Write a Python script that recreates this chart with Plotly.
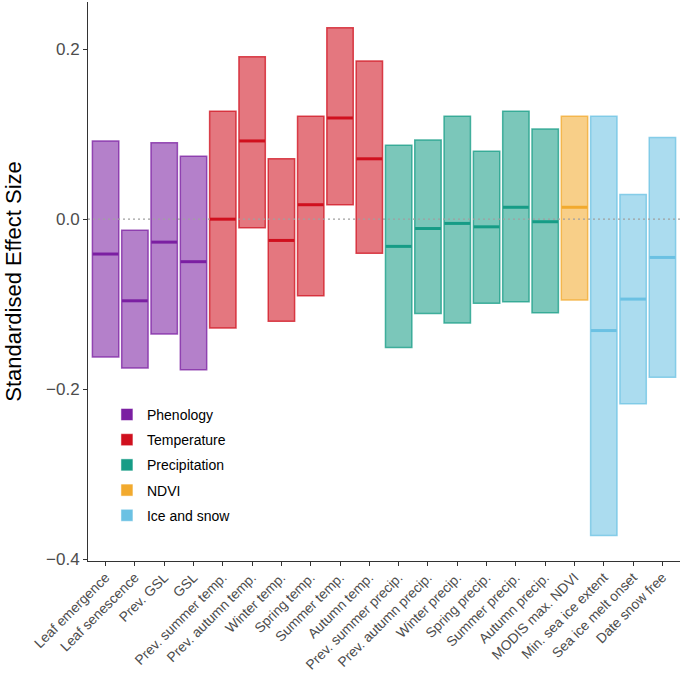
import plotly.graph_objects as go

categories = ["Leaf emergence", "Leaf senescence", "Prev. GSL", "GSL",
              "Prev. summer temp.", "Prev. autumn temp.", "Winter temp.", "Spring temp.",
              "Summer temp.", "Autumn temp.", "Prev. summer precip.", "Prev. autumn precip.",
              "Winter precip.", "Spring precip.", "Summer precip.", "Autumn precip.",
              "MODIS max. NDVI", "Min. sea ice extent", "Sea ice melt onset", "Date snow free"]
groups = ["Phenology"] * 4 + ["Temperature"] * 6 + ["Precipitation"] * 6 + ["NDVI"] + ["Ice and snow"] * 3
upper = [0.092, -0.013, 0.090, 0.074, 0.127, 0.191, 0.071, 0.121, 0.225, 0.186,
         0.087, 0.093, 0.121, 0.080, 0.127, 0.106, 0.121, 0.121, 0.029, 0.096]
median = [-0.041, -0.096, -0.027, -0.050, 0.000, 0.092, -0.025, 0.017, 0.119, 0.071,
          -0.032, -0.011, -0.005, -0.009, 0.014, -0.003, 0.014, -0.131, -0.094, -0.045]
lower = [-0.162, -0.175, -0.135, -0.177, -0.128, -0.010, -0.120, -0.090, 0.017, -0.040,
         -0.151, -0.111, -0.122, -0.099, -0.097, -0.110, -0.095, -0.372, -0.217, -0.186]
group_order = ["Phenology", "Temperature", "Precipitation", "NDVI", "Ice and snow"]
group_colors = {"Phenology": (123, 31, 162), "Temperature": (208, 16, 30),
                "Precipitation": (22, 156, 134), "NDVI": (242, 170, 46),
                "Ice and snow": (107, 193, 227)}
y_ticks = [0.2, 0.0, -0.2, -0.4]
x_range = [-0.6, len(categories) - 0.4]

def rgba(c, a):
    return f"rgba({c[0]},{c[1]},{c[2]},{a})"

fig = go.Figure()
xs = list(range(len(categories)))

# bars (interval from lower to upper)
for g in group_order:
    idx = [i for i in xs if groups[i] == g]
    c = group_colors[g]
    fig.add_trace(go.Bar(
        x=[xs[i] for i in idx],
        y=[upper[i] - lower[i] for i in idx],
        base=[lower[i] for i in idx],
        width=0.9,
        marker=dict(color=rgba(c, 0.57), line=dict(color=rgba(c, 0.75), width=1.5)),
        showlegend=False, hoverinfo="skip"))

# dotted zero reference line (between bars and medians)
fig.add_trace(go.Scatter(x=x_range, y=[0, 0], mode="lines",
                         line=dict(color="#a0a0a0", width=1.3, dash="2px,3px"),
                         showlegend=False, hoverinfo="skip"))

# medians
for g in group_order:
    idx = [i for i in xs if groups[i] == g]
    c = group_colors[g]
    mx, my = [], []
    for i in idx:
        mx += [xs[i] - 0.44, xs[i] + 0.44, None]
        my += [median[i], median[i], None]
    fig.add_trace(go.Scatter(x=mx, y=my, mode="lines",
                             line=dict(color=rgba(c, 1), width=3),
                             showlegend=False, hoverinfo="skip"))

# legend entries
for g in group_order:
    c = group_colors[g]
    fig.add_trace(go.Bar(x=[None], y=[None], name=g, legendgroup=g,
                         marker=dict(color=rgba(c, 1), line=dict(color="white", width=0.5))))

fig.update_layout(
    width=685, height=676,
    margin=dict(l=88, r=5, t=2, b=115),
    plot_bgcolor="white", paper_bgcolor="white",
    barmode="overlay",
    font=dict(family="Liberation Sans, Arial, sans-serif", color="#4d4d4d"),
    showlegend=True,
    legend=dict(x=0.032, y=0.29, xanchor="left", yanchor="top",
                font=dict(size=14, color="black"), tracegroupgap=4,
                bgcolor="rgba(0,0,0,0)", itemwidth=30),
    xaxis=dict(range=x_range, tickmode="array", tickvals=xs, automargin=False,
               ticktext=categories, tickangle=-45, ticks="outside", ticklen=4,
               ticklabelstandoff=-2,
               tickcolor="#333", showline=True, linecolor="#333", linewidth=1,
               showgrid=False, zeroline=False, tickfont=dict(size=13.8, color="#4d4d4d")),
    yaxis=dict(range=[-0.402, 0.2554], tickmode="array", tickvals=y_ticks, automargin=False,
               ticktext=["0.2", "0.0", "\u22120.2", "\u22120.4"],
               ticks="outside", ticklen=4, tickcolor="#333",
               showline=True, linecolor="#333", linewidth=1, showgrid=False,
               zeroline=False, tickfont=dict(size=17, color="#4d4d4d"),
               title=dict(text="Standardised Effect Size", font=dict(size=22, color="black"),
                          standoff=18)),
)

fig.write_html("out.html", post_script="document.body.style.margin='0';",
               config={"displayModeBar": False})
